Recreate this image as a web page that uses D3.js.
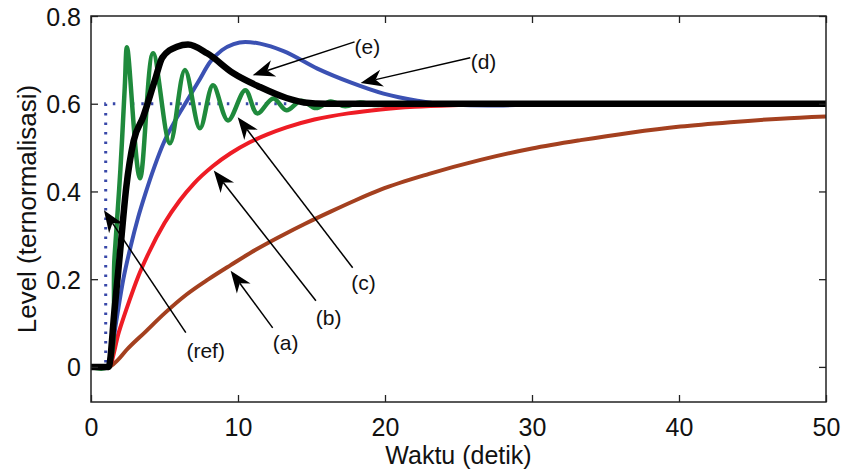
<!DOCTYPE html>
<html>
<head>
<meta charset="utf-8">
<script src="https://cdn.jsdelivr.net/npm/d3@7"></script>
<style>
  html, body { margin: 0; padding: 0; background: #fff; }
  svg { display: block; font-family: "Liberation Sans", Arial, Helvetica, sans-serif; }
</style>
</head>
<body>
<svg id="chart" width="843" height="470"></svg>
<script>
// ---------------- data ----------------
const xTicks = [0, 10, 20, 30, 40, 50];
const xTickLabels = ["0", "10", "20", "30", "40", "50"];
const yTicks = [0, 0.2, 0.4, 0.6, 0.8];
const yTickLabels = ["0", "0.2", "0.4", "0.6", "0.8"];
const xLabel = "Waktu (detik)";
const yLabel = "Level (ternormalisasi)";

// reference step (dotted)
const seriesRef = [[0, 0], [1.0, 0], [1.0, 0.6], [50, 0.6]];
// (a) brown
const seriesA = [[0, 0], [1.2, 0], [1.8, 0.015], [2.4, 0.038], [3.7, 0.08], [5.0, 0.122], [6.5, 0.165],
  [8.0, 0.2], [9.5, 0.232], [11.2, 0.267], [12.9, 0.298], [14.6, 0.327], [16.3, 0.354], [18, 0.38],
  [19.7, 0.404], [23, 0.44], [26.5, 0.472], [30, 0.498], [33.3, 0.517], [36.7, 0.534], [40.1, 0.548],
  [43.5, 0.558], [46.9, 0.566], [50, 0.571]];
// (b) red
const seriesB = [[0, 0], [1.2, 0], [1.9, 0.08], [2.6, 0.15], [3.2, 0.205], [3.9, 0.258], [5.0, 0.328],
  [6.05, 0.38], [7.0, 0.418], [8.3, 0.458], [9.5, 0.487], [10.8, 0.512], [12.0, 0.53], [13.3, 0.546],
  [15.2, 0.564], [17.5, 0.578], [19.7, 0.587], [22, 0.593], [25, 0.597], [30, 0.6], [50, 0.6]];
// (c) green (oscillating)
const seriesC = [[0, 0], [1.1, 0], [1.6, 0.25], [2.0, 0.45], [2.3, 0.64], [2.45, 0.729], [3.33, 0.43],
  [4.22, 0.715], [5.37, 0.51], [6.39, 0.677], [7.41, 0.544], [8.3, 0.642], [9.32, 0.562], [10.5, 0.631],
  [11.3, 0.578], [12.4, 0.612], [13.3, 0.585], [14.3, 0.607], [15.3, 0.59], [16.3, 0.605], [17.3, 0.594],
  [18.3, 0.603], [19.3, 0.597], [20.3, 0.601], [21.3, 0.599], [23, 0.6], [50, 0.6]];
// (d) blue
const seriesD = [[0, 0], [1.2, 0], [1.7, 0.1], [2.2, 0.2], [2.7, 0.275], [3.2, 0.34], [3.7, 0.395],
  [4.3, 0.455], [5.0, 0.515], [5.7, 0.56], [6.5, 0.605], [7.3, 0.65], [8.1, 0.695], [8.9, 0.722],
  [9.7, 0.736], [10.5, 0.741], [11.5, 0.737], [13.1, 0.72], [15.4, 0.68], [17.7, 0.648], [19.9, 0.623],
  [22.2, 0.607], [24.5, 0.598], [27, 0.596], [30, 0.598], [35, 0.6], [50, 0.6]];
// (e) black
const seriesE = [[0, 0], [1.2, 0], [1.6, 0.13], [2.0, 0.27], [2.4, 0.41], [2.9, 0.515], [3.55, 0.57],
  [4.35, 0.654], [4.85, 0.705], [5.85, 0.73], [6.6, 0.735], [7.9, 0.715], [9.66, 0.67], [11.5, 0.638],
  [13.3, 0.613], [14.5, 0.603], [16, 0.6], [50, 0.6]];

// annotation anchors (data coordinates)
const annotations = [
  { label: "(e)",   tip: [11.0, 0.665], tail: [17.93, 0.741], text: [18.8, 0.729] },
  { label: "(d)",   tip: [18.34, 0.647], tail: [25.8, 0.705], text: [26.7, 0.697] },
  { label: "(c)",   tip: [9.98, 0.569], tail: [17.8, 0.226], text: [18.54, 0.192] },
  { label: "(b)",   tip: [8.35, 0.448], tail: [15.3, 0.151], text: [16.16, 0.112] },
  { label: "(a)",   tip: [9.5, 0.219],  tail: [12.36, 0.089], text: [13.24, 0.055] },
  { label: "(ref)", tip: [0.88, 0.357], tail: [6.45, 0.078],  text: [7.8, 0.037] }
];

// ---------------- layout ----------------
const W = 843, H = 470;
const margin = { left: 91, right: 17, top: 16, bottom: 68 };
const pw = W - margin.left - margin.right;
const ph = H - margin.top - margin.bottom;

const svg = d3.select("#chart");
const g = svg.append("g").attr("transform", `translate(${margin.left},${margin.top})`);

const x = d3.scaleLinear().domain([0, 50]).range([0, pw]);
const y = d3.scaleLinear().domain([-0.08, 0.8]).range([ph, 0]);

g.append("clipPath").attr("id", "clip")
  .append("rect").attr("x", 0).attr("y", 0).attr("width", pw).attr("height", ph);

const plot = g.append("g").attr("clip-path", "url(#clip)");

const lineSmooth = d3.line().x(d => x(d[0])).y(d => y(d[1])).curve(d3.curveMonotoneX);
const lineOsc = d3.line().x(d => x(d[0])).y(d => y(d[1])).curve(d3.curveCatmullRom.alpha(0.5));
const lineStep = d3.line().x(d => x(d[0])).y(d => y(d[1]));

plot.append("path").datum(seriesRef).attr("d", lineStep)
  .attr("fill", "none").attr("stroke", "#3848a8").attr("stroke-width", 3)
  .attr("stroke-dasharray", "2.5,7");

plot.append("path").datum(seriesA).attr("d", lineSmooth)
  .attr("fill", "none").attr("stroke", "#a4401f").attr("stroke-width", 4);
plot.append("path").datum(seriesB).attr("d", lineSmooth)
  .attr("fill", "none").attr("stroke", "#ee1c25").attr("stroke-width", 4);
plot.append("path").datum(seriesD).attr("d", lineSmooth)
  .attr("fill", "none").attr("stroke", "#3b51b3").attr("stroke-width", 4);
plot.append("path").datum(seriesC).attr("d", lineOsc)
  .attr("fill", "none").attr("stroke", "#1f8a3c").attr("stroke-width", 4.5)
  .attr("stroke-linejoin", "round");
plot.append("path").datum(seriesE).attr("d", lineSmooth)
  .attr("fill", "none").attr("stroke", "#000").attr("stroke-width", 6.5)
  .attr("stroke-linejoin", "round");

// ---------------- axes ----------------
const tickLen = 7;
const axB = d3.axisBottom(x).tickValues(xTicks).tickSize(-tickLen).tickPadding(16)
  .tickFormat((d, i) => xTickLabels[i]);
const axT = d3.axisTop(x).tickValues(xTicks).tickSize(-tickLen).tickFormat("");
const axL = d3.axisLeft(y).tickValues(yTicks).tickSize(-tickLen).tickPadding(10)
  .tickFormat((d, i) => yTickLabels[i]);
const axR = d3.axisRight(y).tickValues(yTicks).tickSize(-tickLen).tickFormat("");

function styleAxis(sel) {
  sel.select(".domain").remove();
  sel.selectAll(".tick line").attr("stroke", "#222").attr("stroke-width", 1.3);
  sel.selectAll(".tick text").attr("fill", "#111").style("font-size", "25px")
    .style("font-family", '"Liberation Sans", Arial, Helvetica, sans-serif');
}
g.append("g").attr("transform", `translate(0,${ph})`).call(axB).call(styleAxis)
  .selectAll(".tick text").attr("dy", "0.71em");
g.append("g").call(axT).call(styleAxis);
g.append("g").call(axL).call(styleAxis)
  .selectAll(".tick text").attr("dy", "0.36em");
g.append("g").attr("transform", `translate(${pw},0)`).call(axR).call(styleAxis);

g.append("rect").attr("x", 0).attr("y", 0).attr("width", pw).attr("height", ph)
  .attr("fill", "none").attr("stroke", "#222").attr("stroke-width", 1.5);

// axis labels
svg.append("text").attr("x", margin.left + pw / 2).attr("y", 464)
  .attr("text-anchor", "middle").style("font-size", "25px").attr("fill", "#111").text(xLabel);
svg.append("text")
  .attr("transform", `translate(36,${margin.top + ph / 2}) rotate(-90)`)
  .attr("text-anchor", "middle").style("font-size", "26px").attr("fill", "#111").text(yLabel);

// ---------------- annotations ----------------
const ann = g.append("g");
const L = 22, Wh = 8.5;
annotations.forEach(a => {
  const tx = x(a.tip[0]), ty = y(a.tip[1]);
  const sx = x(a.tail[0]), sy = y(a.tail[1]);
  const dx = tx - sx, dy = ty - sy, len = Math.hypot(dx, dy);
  const ux = dx / len, uy = dy / len, nx = -uy, ny = ux;
  const bx = tx - L * ux, by = ty - L * uy;
  const mx = tx - 0.7 * L * ux, my = ty - 0.7 * L * uy;
  ann.append("line").attr("x1", sx).attr("y1", sy).attr("x2", mx).attr("y2", my)
    .attr("stroke", "#000").attr("stroke-width", 1.5);
  ann.append("path")
    .attr("d", `M${tx},${ty}L${bx + Wh * nx},${by + Wh * ny}L${mx},${my}L${bx - Wh * nx},${by - Wh * ny}Z`)
    .attr("fill", "#000");
  ann.append("text").attr("x", x(a.text[0])).attr("y", y(a.text[1]))
    .attr("text-anchor", "middle").attr("dy", "0.35em")
    .style("font-size", "21px").attr("fill", "#111").text(a.label);
});
</script>
</body>
</html>
